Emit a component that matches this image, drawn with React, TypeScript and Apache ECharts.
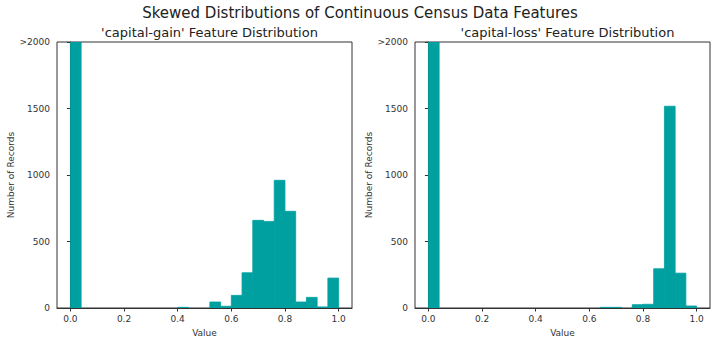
import React, { useEffect, useRef } from "react";
import * as echarts from "echarts";

const mainTitle = "Skewed Distributions of Continuous Census Data Features";
const gainTitle = "'capital-gain' Feature Distribution";
const lossTitle = "'capital-loss' Feature Distribution";

const binStarts = [
  0.0, 0.04, 0.08, 0.12, 0.16, 0.2, 0.24, 0.28, 0.32, 0.36, 0.4, 0.44, 0.48,
  0.52, 0.56, 0.6, 0.64, 0.68, 0.72, 0.76, 0.8, 0.84, 0.88, 0.92, 0.96,
];
const binWidth = 0.04;

const gainCounts = [
  2000, 0, 0, 0, 0, 0, 0, 0, 0, 0, 5, 0, 0, 45, 13, 95, 265, 659, 651, 960,
  727, 45, 80, 8, 225,
];
const lossCounts = [
  2000, 0, 0, 0, 0, 0, 0, 0, 0, 0, 0, 0, 0, 0, 0, 0, 5, 5, 0, 25, 28, 295,
  1517, 262, 15,
];

const xTicks = [0.0, 0.2, 0.4, 0.6, 0.8, 1.0];
const yTicks = [0, 500, 1000, 1500, 2000];
const yTickLabels = ["0", "500", "1000", "1500", ">2000"];

const FONT = "DejaVu Sans";
const TEXT = "#333";
const BAR = "#00A0A0";

export default function App() {
  const ref = useRef<HTMLDivElement>(null);
  useEffect(() => {
    if (!ref.current) return;
    const chart = echarts.init(ref.current, null, { renderer: "svg" });
    const grids = [
      { left: 57, top: 42, width: 295, height: 266 },
      { left: 415, top: 42, width: 295, height: 266 },
    ];
    const mkX = (i: number) => ({
      type: "value",
      gridIndex: i,
      min: -0.05,
      max: 1.05,
      name: "Value",
      nameLocation: "middle",
      nameGap: 20,
      nameTextStyle: { fontFamily: FONT, fontSize: 9, color: TEXT },
      axisLine: { show: true, lineStyle: { color: "#333", width: 1 } },
      axisTick: { show: true, length: 3.5, customValues: xTicks, lineStyle: { color: "#333" } },
      axisLabel: {
        customValues: xTicks,
        formatter: (v: number) => v.toFixed(1),
        fontFamily: FONT,
        fontSize: 9,
        color: TEXT,
        margin: 6,
      },
      splitLine: { show: false },
    });
    const mkY = (i: number) => ({
      type: "value",
      gridIndex: i,
      min: 0,
      max: 2000,
      interval: 500,
      name: "Number of Records",
      nameLocation: "middle",
      nameGap: 41,
      nameTextStyle: { fontFamily: FONT, fontSize: 9, color: TEXT },
      axisLine: { show: true, lineStyle: { color: "#333", width: 1 } },
      axisTick: { show: true, length: 3.5, lineStyle: { color: "#333" } },
      axisLabel: {
        formatter: (v: number) => yTickLabels[yTicks.indexOf(v)] ?? String(v),
        fontFamily: FONT,
        fontSize: 9,
        color: TEXT,
        margin: 7,
      },
      splitLine: { show: false },
    });
    const mkSeries = (i: number, counts: number[]) => ({
      type: "custom",
      xAxisIndex: i,
      yAxisIndex: i,
      clip: true,
      data: binStarts.map((s, k) => [s, s + binWidth, counts[k]]),
      encode: { x: [0, 1], y: 2 },
      renderItem: (params: any, api: any) => {
        if (!api.value(2)) return null;
        const p0 = api.coord([api.value(0), api.value(2)]);
        const p1 = api.coord([api.value(1), 0]);
        return {
          type: "rect",
          shape: { x: p0[0], y: p0[1], width: p1[0] - p0[0], height: p1[1] - p0[1] },
          style: { fill: BAR, stroke: BAR, lineWidth: 0.8 },
        };
      },
    });
    chart.setOption({
      animation: false,
      backgroundColor: "#fff",
      title: [
        {
          text: mainTitle,
          left: "center",
          top: 0,
          textStyle: { fontFamily: FONT, fontSize: 15, fontWeight: "normal", color: "#222" },
        },
        {
          text: gainTitle,
          left: 204.5,
          textAlign: "center",
          top: 21,
          textStyle: { fontFamily: FONT, fontSize: 13, fontWeight: "normal", color: "#222" },
        },
        {
          text: lossTitle,
          left: 562.5,
          textAlign: "center",
          top: 21,
          textStyle: { fontFamily: FONT, fontSize: 13, fontWeight: "normal", color: "#222" },
        },
      ],
      grid: grids.map((g) => ({ ...g, show: true, borderColor: "#333", borderWidth: 1, backgroundColor: "transparent" })),
      xAxis: [mkX(0), mkX(1)],
      yAxis: [mkY(0), mkY(1)],
      series: [mkSeries(0, gainCounts), mkSeries(1, lossCounts)],
    });
    return () => chart.dispose();
  }, []);
  return (
    <div
      ref={ref}
      style={{ position: "fixed", left: 0, top: 0, width: 720, height: 343 }}
    />
  );
}
